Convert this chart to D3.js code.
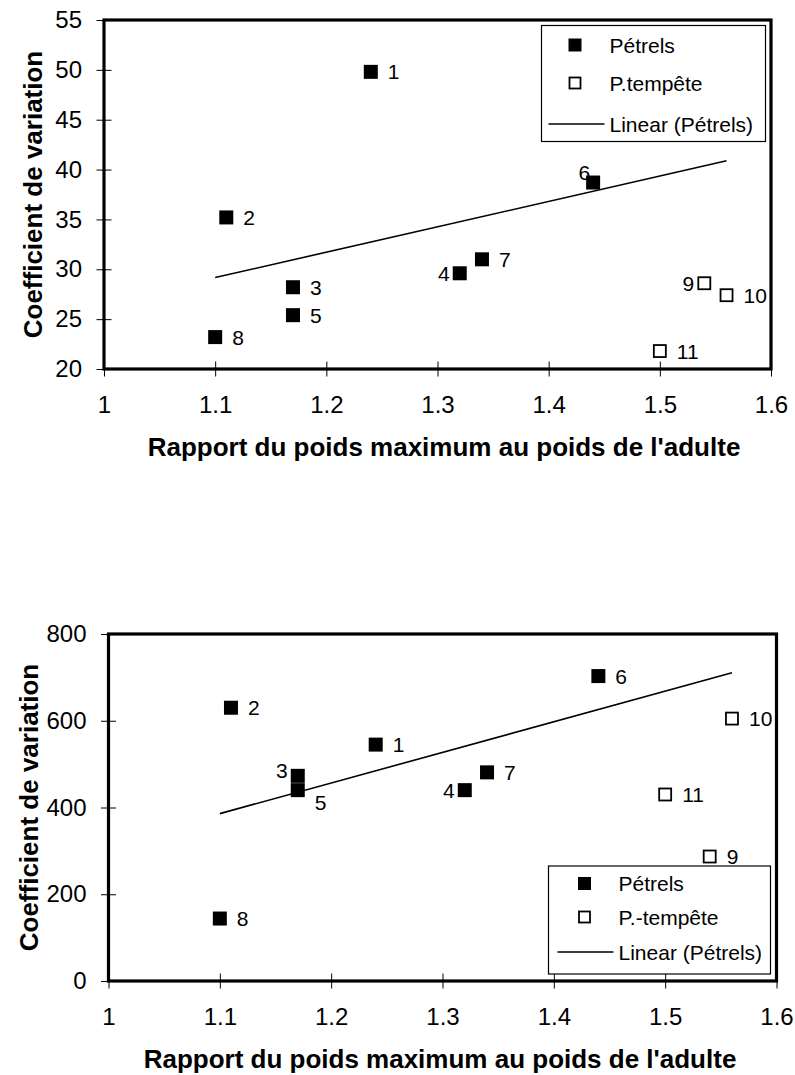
<!DOCTYPE html>
<html>
<head>
<meta charset="utf-8">
<script src="https://cdn.jsdelivr.net/npm/d3@7/dist/d3.min.js"></script>
<style>
  html, body { margin: 0; padding: 0; background: #fff; }
  svg text { font-family: "Liberation Sans", Arial, Helvetica, sans-serif; fill: #000; }
</style>
</head>
<body>
<svg id="chart" width="795" height="1075"></svg>
<script>
// ---------------- data ----------------
const pointIds   = ["1","2","3","4","5","6","7","8","9","10","11"];
const groups     = ["P","P","P","P","P","P","P","P","T","T","T"];   // P = Pétrels, T = P.-tempête
const ratio      = [1.24, 1.11, 1.17, 1.32, 1.17, 1.44, 1.34, 1.10, 1.54, 1.56, 1.50];
const cvTop      = [49.8, 35.2, 28.2, 29.6, 25.4, 38.7, 31.0, 23.2, 28.6, 27.4, 21.8];
const cvBottom   = [545, 630, 473, 440, 440, 703, 481, 144, 287, 605, 430];
const xTicks     = [1, 1.1, 1.2, 1.3, 1.4, 1.5, 1.6];
const yTicksTop  = [20, 25, 30, 35, 40, 45, 50, 55];
const yTicksBottom = [0, 200, 400, 600, 800];
const trendSpan  = [1.10, 1.56];
const legendTop    = ["Pétrels", "P.tempête", "Linear (Pétrels)"];
const legendBottom = ["Pétrels", "P.-tempête", "Linear (Pétrels)"];
const xTitle = "Rapport du poids maximum au poids de l'adulte";
const yTitle = "Coefficient de variation";
// label placement codes (r = right, l = left, ul = upper-left, lu = left slightly up, rd = right, below)
const labelPosTop    = ["r","r","r","l","r","ul","r","r","l","r","r"];
const labelPosBottom = ["r","r","lu","l","rd","r","r","r","r","r","r"];

// ---------------- helpers ----------------
const svg = d3.select("#chart");

function regression(xs, ys) {
  const n = xs.length;
  const mx = d3.mean(xs), my = d3.mean(ys);
  let sxy = 0, sxx = 0;
  for (let i = 0; i < n; i++) { sxy += (xs[i]-mx)*(ys[i]-my); sxx += (xs[i]-mx)*(xs[i]-mx); }
  const b = sxy / sxx;
  return x => my + b * (x - mx);
}

function drawChart(cfg) {
  const g = svg.append("g");
  const x = d3.scaleLinear().domain([1, 1.6]).range([cfg.left, cfg.right]);
  const y = d3.scaleLinear().domain(cfg.yDomain).range([cfg.bottom, cfg.top]);

  // axes
  const ya = g.append("g").attr("transform", `translate(${cfg.left},0)`)
    .call(d3.axisLeft(y).tickValues(cfg.yTicks).tickSize(0).tickPadding(22).tickFormat(d3.format("d")));
  ya.select(".domain").remove();
  ya.selectAll(".tick line").attr("x1", -7.5).attr("x2", 7.5).attr("stroke", "#000");
  ya.selectAll(".tick text").attr("font-size", 24).attr("font-family", "Liberation Sans, Arial, sans-serif").attr("fill", "#000");

  const xa = g.append("g").attr("transform", `translate(0,${cfg.bottom})`)
    .call(d3.axisBottom(x).tickValues(xTicks).tickSize(0).tickPadding(27).tickFormat(d => d3.format("")(d)));
  xa.select(".domain").remove();
  xa.selectAll(".tick line").attr("y1", -7.5).attr("y2", 7.5).attr("stroke", "#000");
  xa.selectAll(".tick text").attr("font-size", 24).attr("font-family", "Liberation Sans, Arial, sans-serif").attr("fill", "#000");

  // frame
  g.append("rect")
    .attr("x", cfg.left).attr("y", cfg.top)
    .attr("width", cfg.right - cfg.left).attr("height", cfg.bottom - cfg.top)
    .attr("fill", "none").attr("stroke", "#000").attr("stroke-width", 3.2);

  // trend line from Pétrels points
  const px = [], py = [];
  groups.forEach((grp, i) => { if (grp === "P") { px.push(ratio[i]); py.push(cfg.values[i]); } });
  const f = regression(px, py);
  g.append("path")
    .datum(trendSpan)
    .attr("d", d3.line().x(d => x(d)).y(d => y(f(d))))
    .attr("fill", "none").attr("stroke", "#000").attr("stroke-width", 1.6);

  // points
  const pts = pointIds.map((id, i) => ({ id, grp: groups[i], xv: ratio[i], yv: cfg.values[i], pos: cfg.labelPos[i] }));
  const fs = 14, os = 12;
  g.selectAll("rect.pt").data(pts).enter().append("rect")
    .attr("class", "pt")
    .attr("x", d => x(d.xv) - (d.grp === "P" ? fs : os) / 2)
    .attr("y", d => y(d.yv) - (d.grp === "P" ? fs : os) / 2)
    .attr("width", d => d.grp === "P" ? fs : os)
    .attr("height", d => d.grp === "P" ? fs : os)
    .attr("fill", d => d.grp === "P" ? "#000" : "#fff")
    .attr("stroke", d => d.grp === "P" ? "none" : "#000")
    .attr("stroke-width", 1.8);

  g.selectAll("text.lbl").data(pts).enter().append("text")
    .attr("class", "lbl")
    .attr("font-size", 21)
    .attr("x", d => {
      const cx = x(d.xv);
      if (d.pos === "l" || d.pos === "lu") return cx - 10;
      if (d.pos === "ul") return cx - 3;
      return cx + 17;
    })
    .attr("y", d => {
      const cy = y(d.yv);
      if (d.pos === "ul") return cy - 10;
      if (d.pos === "lu") return cy - 5;
      if (d.pos === "rd") return cy + 12;
      return cy;
    })
    .attr("dy", "0.36em")
    .attr("text-anchor", d => (d.pos === "r" || d.pos === "rd") ? "start" : "end")
    .text(d => d.id);

  // axis titles
  g.append("text")
    .attr("x", cfg.xTitleX).attr("y", cfg.bottom + 87)
    .attr("text-anchor", "middle").attr("font-size", 26).attr("font-weight", "bold")
    .text(xTitle);
  g.append("text")
    .attr("transform", `translate(${cfg.yTitleX},${(cfg.top + cfg.bottom) / 2}) rotate(-90)`)
    .attr("text-anchor", "middle").attr("font-size", 26).attr("font-weight", "bold")
    .text(yTitle);

  // legend
  const L = cfg.legend;
  const lg = g.append("g");
  lg.append("rect").attr("x", L.x).attr("y", L.y).attr("width", L.w).attr("height", L.h)
    .attr("fill", "#fff").attr("stroke", "#000").attr("stroke-width", 1.2);
  lg.append("rect").attr("x", L.x + L.mk - 6.5).attr("y", L.y + L.rows[0] - 6.5).attr("width", 13).attr("height", 13).attr("fill", "#000");
  lg.append("rect").attr("x", L.x + L.mk - 5.5).attr("y", L.y + L.rows[1] - 5.5).attr("width", 11).attr("height", 11)
    .attr("fill", "#fff").attr("stroke", "#000").attr("stroke-width", 1.8);
  lg.append("line").attr("x1", L.x + L.l1).attr("x2", L.x + L.l2)
    .attr("y1", L.y + L.rows[2]).attr("y2", L.y + L.rows[2]).attr("stroke", "#000").attr("stroke-width", 1.6);
  L.labels.forEach((t, i) => {
    lg.append("text").attr("x", L.x + L.tx).attr("y", L.y + L.rows[i]).attr("dy", "0.36em")
      .attr("font-size", 21).text(t);
  });
}

drawChart({
  left: 104, right: 771, top: 20, bottom: 369,
  yDomain: [20, 55], yTicks: yTicksTop, values: cvTop, labelPos: labelPosTop,
  xTitleX: 444, yTitleX: 42,
  legend: { x: 541.5, y: 25.5, w: 224, h: 116, rows: [19.5, 57.5, 98.5], mk: 33.5, tx: 68, l1: 7, l2: 63, labels: legendTop }
});

drawChart({
  left: 108.5, right: 776.5, top: 634, bottom: 981,
  yDomain: [0, 800], yTicks: yTicksBottom, values: cvBottom, labelPos: labelPosBottom,
  xTitleX: 440, yTitleX: 38,
  legend: { x: 548.5, y: 866, w: 222, h: 108, rows: [17.5, 51, 86], mk: 36, tx: 70, l1: 9, l2: 65, labels: legendBottom }
});
</script>
</body>
</html>
